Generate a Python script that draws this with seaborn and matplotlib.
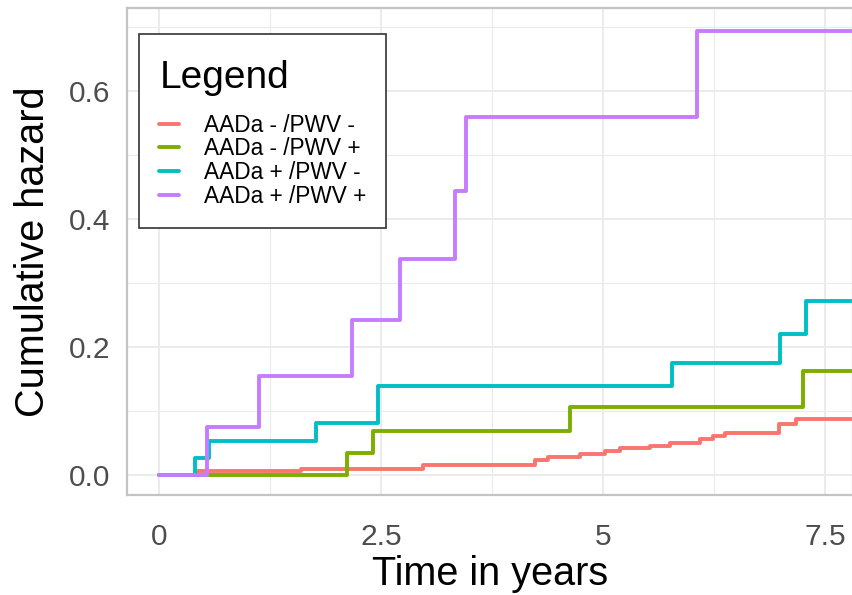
import numpy as np
import pandas as pd
import matplotlib
matplotlib.use("Agg")
import matplotlib.pyplot as plt
from matplotlib.offsetbox import VPacker, DrawingArea
import seaborn as sns

# Cumulative hazard step curves per group (time in years, hazard after each event)
groups = ["AADa - /PWV -", "AADa - /PWV +", "AADa + /PWV -", "AADa + /PWV +"]

t_neg_neg = [0, 0.42, 1.60, 2.97, 4.23, 4.38, 4.74, 5.02, 5.19, 5.52, 5.75,
             6.09, 6.23, 6.37, 6.98, 7.17, 8.0]
h_neg_neg = [0, 0.006, 0.009, 0.016, 0.023, 0.028, 0.033, 0.0375, 0.042, 0.045,
             0.050, 0.056, 0.061, 0.066, 0.080, 0.087, 0.087]

t_neg_pos = [0, 2.12, 2.41, 4.62, 7.25, 8.0]
h_neg_pos = [0, 0.035, 0.069, 0.106, 0.163, 0.163]

t_pos_neg = [0, 0.40, 0.56, 1.77, 2.46, 5.77, 6.99, 7.28, 8.0]
h_pos_neg = [0, 0.027, 0.053, 0.082, 0.140, 0.175, 0.221, 0.272, 0.272]

t_pos_pos = [0, 0.535, 1.12, 2.17, 2.71, 3.33, 3.45, 6.05, 8.0]
h_pos_pos = [0, 0.075, 0.155, 0.242, 0.337, 0.444, 0.560, 0.693, 0.693]

colors = ["#F8766D", "#7CAE00", "#00BFC4", "#C77CFF"]

frames = []
for g, t, h in zip(groups,
                   [t_neg_neg, t_neg_pos, t_pos_neg, t_pos_pos],
                   [h_neg_neg, h_neg_pos, h_pos_neg, h_pos_pos]):
    frames.append(pd.DataFrame({"time": t, "hazard": h, "group": g}))
df = pd.concat(frames, ignore_index=True)

sns.set_style("white")
plt.rcParams["font.family"] = ["Liberation Sans", "DejaVu Sans"]
plt.rcParams["text.color"] = "black"

W, H = 853, 595
fig = plt.figure(figsize=(W / 100, H / 100), dpi=100)
ax = fig.add_axes([127 / W, 1 - 495 / H, 1 - 127 / W, (495 - 8) / H])

sns.lineplot(data=df, x="time", y="hazard", hue="group", hue_order=groups,
             palette=colors, drawstyle="steps-post", estimator=None,
             sort=False, linewidth=2.8, ax=ax)

ax.set_xlim(-0.36, 7.81)
ax.set_ylim(-0.031, 0.7297)
ax.set_xticks([0, 2.5, 5, 7.5])
ax.set_xticklabels(["0", "2.5", "5", "7.5"])
ax.set_yticks([0.0, 0.2, 0.4, 0.6])
ax.set_yticklabels(["0.0", "0.2", "0.4", "0.6"])
ax.set_xticks([1.25, 3.75, 6.25], minor=True)
ax.set_yticks([0.1, 0.3, 0.5, 0.7], minor=True)

ax.grid(which="major", color="#ebebeb", linewidth=1.4)
ax.grid(which="minor", color="#ebebeb", linewidth=0.8)
ax.set_axisbelow(True)
for s in ax.spines.values():
    s.set_color("#c4c4c4")
    s.set_linewidth(1.6)

ax.tick_params(which="major", length=6, width=1.2, color="#333333",
               labelsize=21.5, labelcolor="#4d4d4d")
ax.tick_params(axis="x", which="major", pad=14)
ax.tick_params(axis="y", which="major", pad=6)
ax.tick_params(which="minor", length=0)

ax.set_xlabel("Time in years", fontsize=28.5, color="black", labelpad=3)
ax.set_ylabel("Cumulative hazard", fontsize=28.5, color="black", labelpad=12)

sns.move_legend(ax, "upper left",
                bbox_to_anchor=(139 / W, 1 - 34 / H),
                bbox_transform=fig.transFigure,
                title="Legend", fontsize=16.3, title_fontsize=28,
                frameon=True, fancybox=False, edgecolor="#333333",
                handlelength=0.85, handletextpad=1.1, labelspacing=0.03,
                borderpad=0.9, borderaxespad=0, alignment="left")
leg = ax.get_legend()
leg.get_title().set_color("black")
for txt in leg.get_texts():
    txt.set_color("black")
leg.get_frame().set_linewidth(1.2)
leg.get_frame().set_alpha(1)
for ln in leg.get_lines():
    ln.set_linewidth(2.8)

# a little headroom above the legend title, and a wider gap below it
title_stack = VPacker(children=[DrawingArea(0, 4.3), leg._legend_title_box],
                      pad=0, sep=0, align="left")
title_stack.set_figure(fig)
leg._legend_box._children[0] = title_stack
leg._legend_box.sep = 12.5

fig.savefig("out.png", dpi=100)
